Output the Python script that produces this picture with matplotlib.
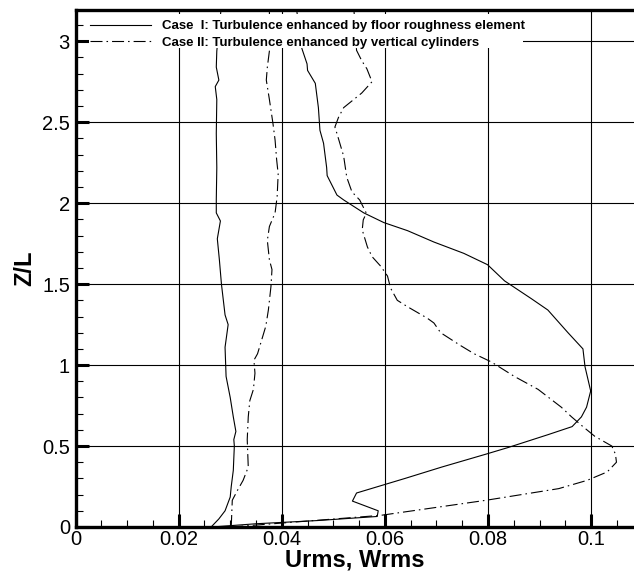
import matplotlib
matplotlib.use("Agg")
import matplotlib.pyplot as plt
from matplotlib.ticker import MultipleLocator, FuncFormatter
from matplotlib.patches import Rectangle

plt.rcParams['font.family'] = ['Liberation Sans', 'DejaVu Sans']

# Case I profiles (solid)
z_a = [0.0, 0.05, 0.10, 0.185, 0.25, 0.35, 0.50, 0.54, 0.59, 0.68, 0.80, 0.93, 1.11, 1.25,
       1.31, 1.50, 1.65, 1.78, 1.89, 1.94, 2.02, 2.22, 2.43, 2.64, 2.72, 2.76, 2.84, 2.94, 3.19]
x_a = [0.0263, 0.0278, 0.0290, 0.0300, 0.0302, 0.0306, 0.0308, 0.0307, 0.0311, 0.0306, 0.0300,
       0.0292, 0.0290, 0.0296, 0.0290, 0.0283, 0.0279, 0.0275, 0.0281, 0.0273, 0.0273, 0.0274,
       0.0273, 0.0274, 0.0271, 0.0278, 0.0273, 0.0274, 0.0282]

z_b = [0.0, 0.02, 0.04, 0.065, 0.10, 0.16, 0.21, 0.30, 0.37, 0.45, 0.49, 0.53, 0.57, 0.62,
       0.68, 0.74, 0.84, 0.99, 1.10, 1.20, 1.34, 1.41, 1.52, 1.62, 1.69, 1.76, 1.83, 1.88,
       1.94, 2.02, 2.05, 2.17, 2.22, 2.37, 2.45, 2.59, 2.74, 2.82, 2.86, 2.955, 3.19]
x_b = [0.0265, 0.0350, 0.0470, 0.0585, 0.0587, 0.0537, 0.0545, 0.0639, 0.0710, 0.0796, 0.0838,
       0.0877, 0.0916, 0.0963, 0.0981, 0.0991, 0.0999, 0.0988, 0.0984, 0.0955, 0.0916, 0.0884,
       0.0832, 0.0799, 0.0753, 0.0695, 0.0644, 0.0598, 0.0559, 0.0520, 0.0507, 0.0488, 0.0487,
       0.0481, 0.0474, 0.0471, 0.0465, 0.0450, 0.0449, 0.0439, 0.0429]

# Case II profiles (dash-dot)
z_c = [0.0, 0.165, 0.226, 0.288, 0.37, 0.54, 0.68, 0.78, 0.85, 0.95, 1.03, 1.07, 1.155, 1.24,
       1.34, 1.485, 1.59, 1.65, 1.77, 1.856, 1.94, 2.04, 2.18, 2.27, 2.39, 2.49, 2.64, 2.76,
       2.84, 2.94, 3.19]
x_c = [0.0302, 0.0304, 0.0314, 0.0325, 0.0335, 0.0333, 0.0335, 0.0338, 0.0345, 0.0348, 0.0346,
       0.0353, 0.0361, 0.0369, 0.0374, 0.0379, 0.0381, 0.0376, 0.0372, 0.0376, 0.0387, 0.0391,
       0.0393, 0.0390, 0.0387, 0.0383, 0.0376, 0.0370, 0.0372, 0.0376, 0.0376]

z_d = [0.0, 0.072, 0.165, 0.237, 0.288, 0.34, 0.40, 0.45, 0.50, 0.56, 0.62, 0.68, 0.74, 0.85,
       0.93, 1.02, 1.07, 1.12, 1.20, 1.26, 1.29, 1.36, 1.40, 1.475, 1.55, 1.61, 1.67, 1.73,
       1.835, 1.897, 1.938, 2.02, 2.07, 2.16, 2.29, 2.43, 2.47, 2.53, 2.59, 2.68, 2.75, 2.83,
       2.88, 2.944, 3.19]
x_d = [0.0302, 0.0592, 0.0796, 0.0937, 0.0992, 0.1031, 0.1049, 0.1047, 0.1040, 0.1007, 0.0984,
       0.0962, 0.0942, 0.0897, 0.0851, 0.0806, 0.0773, 0.0747, 0.0708, 0.0695, 0.0682, 0.0644,
       0.0624, 0.0611, 0.0605, 0.0592, 0.0575, 0.0566, 0.0556, 0.0558, 0.0564, 0.0551, 0.0536,
       0.0526, 0.0520, 0.0507, 0.0503, 0.0510, 0.0520, 0.0555, 0.0575, 0.0565, 0.0555, 0.0545,
       0.0540]

labels = ["Case  I: Turbulence enhanced by floor roughness element",
          "Case II: Turbulence enhanced by vertical cylinders"]

fig = plt.figure(figsize=(6.34, 5.76), dpi=100)
ax = fig.add_axes([75.5 / 634, 49 / 576, (634 - 75.5) / 634, 517 / 576])

dashdot = (0, (10.8, 3.6, 1.4, 3.6))
lw = 0.8
l1, = ax.plot(x_a, z_a, color='black', lw=lw)
ax.plot(x_b, z_b, color='black', lw=lw)
l2, = ax.plot(x_c, z_c, color='black', lw=lw, linestyle=dashdot)
ax.plot(x_d, z_d, color='black', lw=lw, linestyle=dashdot)

ax.set_xlim(0, 0.1083)
ax.set_ylim(0, 3.193)

ax.xaxis.set_major_locator(MultipleLocator(0.02))
ax.xaxis.set_minor_locator(MultipleLocator(0.005))
ax.yaxis.set_major_locator(MultipleLocator(0.5))
ax.yaxis.set_minor_locator(MultipleLocator(0.1))
fmt = FuncFormatter(lambda v, p: '%g' % round(v, 4))
ax.xaxis.set_major_formatter(fmt)
ax.yaxis.set_major_formatter(fmt)

ax.grid(True, which='major', color='black', lw=0.8)
ax.tick_params(which='major', direction='in', length=9.5, width=2.2, labelsize=14.5,
               top=False, right=False)
ax.tick_params(which='minor', direction='in', length=5, width=0.8, top=False, right=False)
ax.tick_params(axis='x', which='major', pad=2)
ax.tick_params(axis='y', which='major', pad=4)

for s in ['left', 'bottom', 'top']:
    ax.spines[s].set_linewidth(2.4)
ax.spines['right'].set_visible(False)

ax.set_xlabel('Urms, Wrms', fontsize=17, fontweight='bold', labelpad=0)
ax.set_ylabel('Z/L', fontsize=17, fontweight='bold', labelpad=4)

# white box behind the legend hides grid and curves
ax.add_patch(Rectangle((0.0242, 0.9265), 0.8013 - 0.0242, 0.9923 - 0.9265,
                       transform=ax.transAxes, facecolor='white', edgecolor='none', zorder=3))
leg = ax.legend([l1, l2], labels, loc='upper left', bbox_to_anchor=(0.026, 0.9806),
                frameon=False, borderpad=0, borderaxespad=0, handlelength=4.6,
                handletextpad=0.84, labelspacing=0.31, prop={'weight': 'bold', 'size': 9.5})
leg.set_zorder(4)

fig.savefig('out.png', dpi=100)
